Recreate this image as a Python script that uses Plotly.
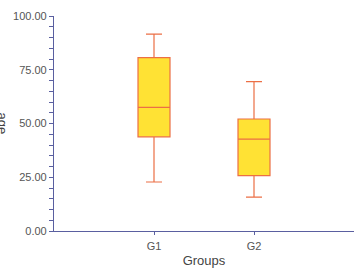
import plotly.graph_objects as go

groups = ["G1", "G2"]
lower_fence = [22.8, 15.8]
q1 = [43.8, 25.8]
median = [57.5, 42.7]
q3 = [80.6, 52.1]
upper_fence = [91.6, 69.5]
y_ticks = [0, 25, 50, 75, 100]

fig = go.Figure()
fig.add_trace(go.Box(
    x=groups, q1=q1, median=median, q3=q3,
    lowerfence=lower_fence, upperfence=upper_fence,
    width=0.32, whiskerwidth=0.5,
    fillcolor="#FFE234",
    line=dict(color="#EC6F45", width=1.2),
    boxpoints=False, showlegend=False, hoverinfo="skip",
))

axis_color = "#5A5FA0"
fig.update_layout(
    width=355, height=269,
    margin=dict(l=54, r=1, t=16, b=38),
    plot_bgcolor="white", paper_bgcolor="white",
    font=dict(family="Liberation Sans, Arial, sans-serif", color="#555555", size=11),
    xaxis=dict(
        range=[-1, 2], showgrid=False, zeroline=False,
        showline=True, linecolor=axis_color, linewidth=1.2,
        ticks="outside", tickcolor=axis_color, ticklen=3,
        ticklabelstandoff=2,
        title=dict(text="Groups", font=dict(size=13, color="#444444"), standoff=4),
        tickfont=dict(size=11, color="#555555"),
    ),
    yaxis=dict(
        range=[0, 100], showgrid=False, zeroline=False,
        showline=True, linecolor=axis_color, linewidth=1.2,
        tickvals=y_ticks, tickformat=".2f",
        ticks="outside", tickcolor=axis_color, ticklen=4,
        tickfont=dict(size=11, color="#555555"),
        minor=dict(dtick=5, ticks="outside", ticklen=4, tickcolor=axis_color),
    ),
    annotations=[dict(
        text="age", xref="paper", yref="paper", x=-54/300, y=0.5,
        xanchor="center", yanchor="middle", xshift=2, showarrow=False,
        textangle=90, font=dict(size=13, color="#444444"),
    )],
)

fig.write_html("out.html")
